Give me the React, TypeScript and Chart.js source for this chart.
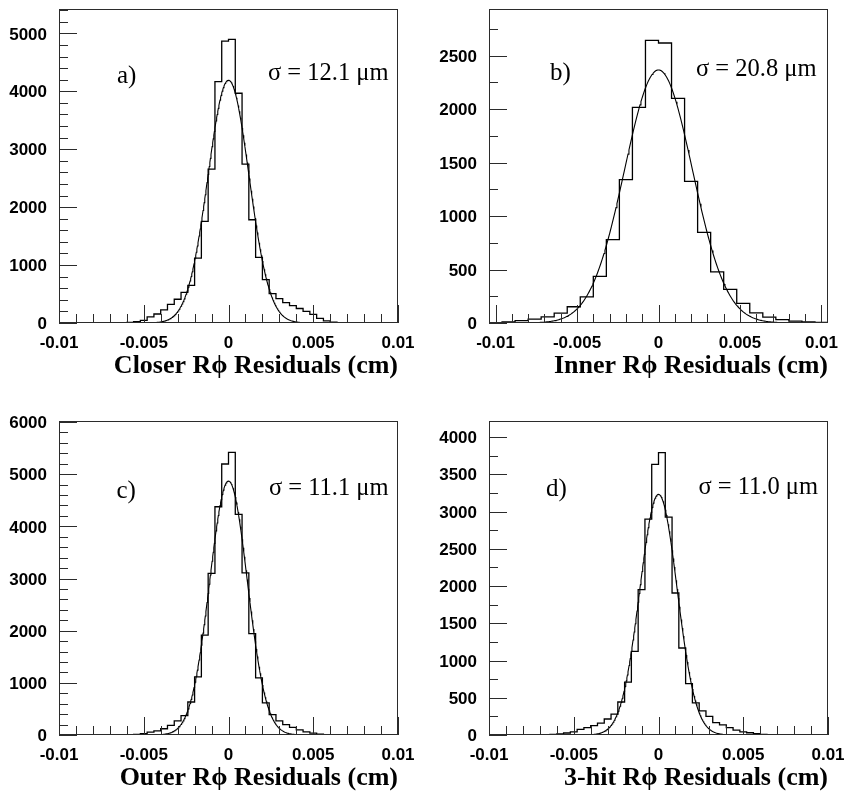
import React, { useEffect, useRef } from "react";
import { Chart, registerables } from "chart.js";

Chart.register(...registerables);

// ---------------- Data ----------------
// Histogram bin contents, left to right.
const closerCounts = [
  0, 0, 1, 2, 2, 3, 3, 4, 5, 7,
  12, 22, 45, 104, 155, 225, 320, 410, 530, 650,
  1121, 1753, 2655, 4167, 4865, 4895, 3966, 2741, 1782, 1132,
  747, 506, 420, 350, 300, 250, 200, 150, 80, 35,
  15, 8, 5, 3, 3, 2, 2, 1, 1, 0,
];
const innerCounts = [
  3, 10, 23, 37, 57, 92, 152, 245, 436, 779, 1340, 2016, 2641,
  2617, 2100, 1324, 847, 477, 315, 183, 95, 55, 32, 18, 10, 5,
];
const outerCounts = [
  0, 0, 0, 1, 1, 2, 2, 2, 3, 3,
  5, 10, 25, 55, 78, 120, 185, 270, 371, 633,
  1113, 1913, 3097, 4376, 5196, 5420, 4229, 3109, 1945, 1094,
  614, 390, 270, 200, 145, 100, 60, 35, 18, 8,
  4, 3, 2, 2, 1, 1, 1, 1, 0, 0,
];
const threeHitCounts = [
  0, 0, 0, 0, 1, 3, 3, 4, 5, 9,
  15, 27, 42, 75, 98, 125, 160, 215, 280, 443,
  711, 1123, 1951, 2899, 3633, 3791, 2926, 1906, 1168, 689,
  430, 325, 250, 165, 135, 100, 65, 42, 30, 18,
  9, 5, 4, 3, 2, 2, 1, 1, 0, 0,
];

// Binning: [first bin edge, bin width] in cm
const closerBinning = [-0.01, 0.0004];
const innerBinning = [-0.0104, 0.0008];
const outerBinning = [-0.01, 0.0004];
const threeHitBinning = [-0.01, 0.0004];

// Gaussian fit parameters: [amplitude, mean (cm), sigma (cm)]
const closerFit = [4190, 0, 0.00121];
const innerFit = [2365, 0, 0.00208];
const outerFit = [4869, 0, 0.00111];
const threeHitFit = [3230, 0, 0.0011];

// Tick values / labels
const xTickValues = [-0.01, -0.005, 0, 0.005, 0.01];
const xTickLabels = ["-0.01", "-0.005", "0", "0.005", "0.01"];
const closerYTicks = [0, 1000, 2000, 3000, 4000, 5000];
const innerYTicks = [0, 500, 1000, 1500, 2000, 2500];
const outerYTicks = [0, 1000, 2000, 3000, 4000, 5000, 6000];
const threeHitYTicks = [0, 500, 1000, 1500, 2000, 2500, 3000, 3500, 4000];

// Texts
const panelLetters = ["a)", "b)", "c)", "d)"];
const sigmaLabels = ["σ = 12.1 μm", "σ = 20.8 μm", "σ = 11.1 μm", "σ = 11.0 μm"];
const axisTitles = [
  "Closer Rϕ Residuals (cm)",
  "Inner Rϕ Residuals (cm)",
  "Outer Rϕ Residuals (cm)",
  "3-hit Rϕ Residuals (cm)",
];

// ---------------- Layout / style (no data) ----------------
const SERIF = '"Liberation Serif", "Times New Roman", "DejaVu Serif", serif';
const SANS = '"Liberation Sans", Arial, Helvetica, sans-serif';

type PanelCfg = {
  counts: number[];
  binning: number[];
  fit: number[];
  yTicks: number[];
  letter: string;
  sigma: string;
  title: string;
  left: number;
  top: number;
  width: number;
  height: number;
  padRight: number;
  xMin: number;
  xMax: number;
  yMax: number;
  yMajor: number;
  yMinor: number;
  fitRange: number;
  letterDx: number;
  letterDy: number;
  sigmaDx: number;
  sigmaDy: number;
};

const panels: PanelCfg[] = [
  {
    counts: closerCounts, binning: closerBinning, fit: closerFit, yTicks: closerYTicks,
    letter: panelLetters[0], sigma: sigmaLabels[0], title: axisTitles[0],
    left: 0, top: 0, width: 420, height: 382, padRight: 22,
    xMin: -0.01, xMax: 0.01, yMax: 5420, yMajor: 1000, yMinor: 200, fitRange: 0.005,
    letterDx: 58, letterDy: 74, sigmaDx: -9.5, sigmaDy: 70.5,
  },
  {
    counts: innerCounts, binning: innerBinning, fit: innerFit, yTicks: innerYTicks,
    letter: panelLetters[1], sigma: sigmaLabels[1], title: axisTitles[1],
    left: 430, top: 0, width: 415, height: 382, padRight: 17,
    xMin: -0.0104, xMax: 0.0104, yMax: 2935, yMajor: 500, yMinor: 250, fitRange: 0.0085,
    letterDx: 61, letterDy: 71, sigmaDx: -11.5, sigmaDy: 67,
  },
  {
    counts: outerCounts, binning: outerBinning, fit: outerFit, yTicks: outerYTicks,
    letter: panelLetters[2], sigma: sigmaLabels[2], title: axisTitles[2],
    left: 0, top: 412, width: 420, height: 382, padRight: 22,
    xMin: -0.01, xMax: 0.01, yMax: 6020, yMajor: 1000, yMinor: 200, fitRange: 0.005,
    letterDx: 57.5, letterDy: 77, sigmaDx: -9.5, sigmaDy: 74,
  },
  {
    counts: threeHitCounts, binning: threeHitBinning, fit: threeHitFit, yTicks: threeHitYTicks,
    letter: panelLetters[3], sigma: sigmaLabels[3], title: axisTitles[3],
    left: 430, top: 412, width: 415, height: 382, padRight: 17,
    xMin: -0.01, xMax: 0.01, yMax: 4215, yMajor: 500, yMinor: 250, fitRange: 0.005,
    letterDx: 57, letterDy: 75, sigmaDx: -10, sigmaDy: 73,
  },
];

// Draws the ROOT-style frame, inward ticks and the in-plot labels.
const rootFramePlugin = {
  id: "rootFrame",
  afterDatasetsDraw(chart: any, _args: any, opts: any) {
    const { ctx, chartArea } = chart;
    const { left, right, top, bottom } = chartArea;
    const xs = chart.scales.x;
    const ys = chart.scales.y;
    ctx.save();
    ctx.strokeStyle = "#2b2b2b";
    ctx.lineWidth = 1;
    ctx.strokeRect(left + 0.5, top + 0.5, right - left - 1, bottom - top - 1);

    const seg = (x1: number, y1: number, x2: number, y2: number) => {
      ctx.beginPath();
      ctx.moveTo(x1, y1);
      ctx.lineTo(x2, y2);
      ctx.stroke();
    };
    // x ticks: major every 0.005, minor every 0.001
    const i0 = Math.ceil(xs.min / 0.001 - 1e-6);
    const i1 = Math.floor(xs.max / 0.001 + 1e-6);
    for (let i = i0; i <= i1; i++) {
      const px = Math.round(xs.getPixelForValue(i * 0.001)) + 0.5;
      const len = i % 5 === 0 ? 18 : 9;
      seg(px, bottom, px, bottom - len);
    }
    // y ticks
    const nMinor = Math.floor(ys.max / opts.yMinor + 1e-6);
    for (let j = 0; j <= nMinor; j++) {
      const v = j * opts.yMinor;
      const py = Math.round(ys.getPixelForValue(v)) + 0.5;
      const major = Math.abs(v / opts.yMajor - Math.round(v / opts.yMajor)) < 1e-6;
      seg(left, py, left + (major ? 18 : 9), py);
    }

    ctx.fillStyle = "#000";
    ctx.font = `25px ${SERIF}`;
    ctx.textBaseline = "alphabetic";
    ctx.textAlign = "left";
    ctx.fillText(opts.letter, left + opts.letterDx, top + opts.letterDy);
    ctx.font = `24.5px ${SERIF}`;
    ctx.textAlign = "right";
    ctx.fillText(opts.sigma, right + opts.sigmaDx, top + opts.sigmaDy);
    ctx.restore();
  },
};

function Panel({ cfg }: { cfg: PanelCfg }) {
  const ref = useRef<HTMLCanvasElement>(null);

  useEffect(() => {
    const canvas = ref.current;
    if (!canvas) return;
    const [start, width] = cfg.binning;
    const hist = cfg.counts.map((c, i) => ({ x: start + i * width, y: c }));
    hist.push({
      x: start + cfg.counts.length * width,
      y: cfg.counts[cfg.counts.length - 1],
    });

    // Fitted Gaussian curve from its parameters
    const [amp, mean, sigma] = cfg.fit;
    const fitPts: { x: number; y: number }[] = [];
    const n = 300;
    for (let i = 0; i <= n; i++) {
      const x = -cfg.fitRange + (2 * cfg.fitRange * i) / n;
      fitPts.push({ x, y: amp * Math.exp(-0.5 * ((x - mean) / sigma) ** 2) });
    }

    const chart = new Chart(canvas, {
      type: "line",
      data: {
        datasets: [
          {
            data: hist,
            stepped: "before",
            borderColor: "#000",
            borderWidth: 1.3,
            pointRadius: 0,
            fill: false,
          },
          {
            data: fitPts,
            borderColor: "#000",
            borderWidth: 1.1,
            pointRadius: 0,
            tension: 0,
            fill: false,
          },
        ],
      } as any,
      options: {
        animation: false,
        responsive: false,
        events: [],
        layout: { padding: { top: 9, right: cfg.padRight, bottom: 0, left: 0 } },
        plugins: {
          legend: { display: false },
          tooltip: { enabled: false },
          rootFrame: {
            letter: cfg.letter,
            sigma: cfg.sigma,
            letterDx: cfg.letterDx,
            letterDy: cfg.letterDy,
            sigmaDx: cfg.sigmaDx,
            sigmaDy: cfg.sigmaDy,
            yMajor: cfg.yMajor,
            yMinor: cfg.yMinor,
          },
        } as any,
        scales: {
          x: {
            type: "linear",
            min: cfg.xMin,
            max: cfg.xMax,
            grid: { display: false, drawTicks: false },
            border: { display: false },
            afterBuildTicks: (s: any) => {
              s.ticks = xTickValues.map((v) => ({ value: v }));
            },
            afterFit: (s: any) => {
              s.height = 59;
              s.paddingLeft = 0;
              s.paddingRight = 0;
              s.paddingTop = 0;
              s.paddingBottom = 0;
            },
            ticks: {
              autoSkip: false,
              maxRotation: 0,
              padding: 10,
              color: "#000",
              font: { family: SANS, size: 17, weight: "bold" },
              callback: (_v: any, idx: number) => xTickLabels[idx],
            },
            title: {
              display: true,
              text: cfg.title,
              align: "end",
              color: "#000",
              padding: { top: 0, bottom: 3 },
              font: { family: SERIF, size: 26, weight: "bold", lineHeight: 1 },
            },
          },
          y: {
            type: "linear",
            min: 0,
            max: cfg.yMax,
            grid: { display: false, drawTicks: false },
            border: { display: false },
            afterBuildTicks: (s: any) => {
              s.ticks = cfg.yTicks.map((v) => ({ value: v }));
            },
            afterFit: (s: any) => {
              s.width = 59;
              s.paddingLeft = 0;
              s.paddingRight = 0;
              s.paddingTop = 0;
              s.paddingBottom = 0;
            },
            ticks: {
              autoSkip: false,
              padding: 12,
              labelOffset: 1.5,
              color: "#000",
              font: { family: SANS, size: 17, weight: "bold" },
              callback: (v: any) => String(v),
            },
          },
        },
      } as any,
      plugins: [rootFramePlugin as any],
    });
    return () => chart.destroy();
  }, [cfg]);

  return (
    <canvas
      ref={ref}
      width={cfg.width}
      height={cfg.height}
      style={{
        position: "absolute",
        left: cfg.left,
        top: cfg.top,
        width: cfg.width,
        height: cfg.height,
      }}
    />
  );
}

export default function App() {
  return (
    <div
      style={{
        position: "absolute",
        left: 0,
        top: 0,
        width: 845,
        height: 794,
        background: "#fff",
        overflow: "hidden",
      }}
    >
      {panels.map((p, i) => (
        <Panel key={i} cfg={p} />
      ))}
    </div>
  );
}
